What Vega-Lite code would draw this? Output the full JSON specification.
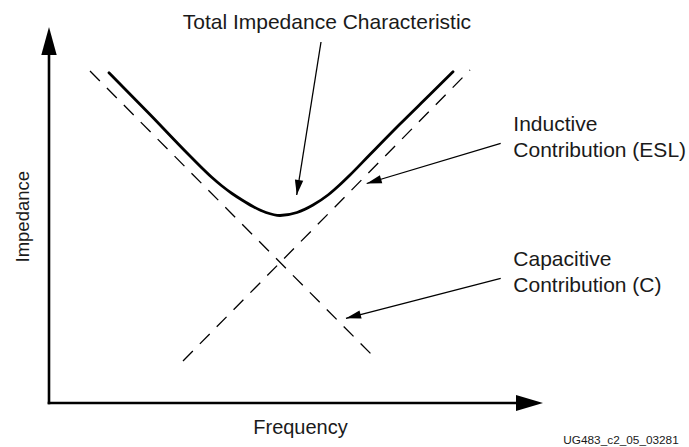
{
  "$schema": "https://vega.github.io/schema/vega-lite/v6.json",
  "width": 689,
  "height": 447,
  "padding": 0,
  "autosize": {"type": "none"},
  "background": "white",
  "config": {"view": {"stroke": null}},
  "datasets": {
    "axes": [
      {"x": 0, "y": 0, "x2": 0, "y2": 355},
      {"x": 0, "y": 0, "x2": 470, "y2": 0}
    ],
    "asymptotes": [
      {"series": "Capacitive", "x": 41, "y": 332, "x2": 325, "y2": 46},
      {"series": "Inductive", "x": 134, "y": 42, "x2": 421, "y2": 333}
    ],
    "curve": [
      {"f": 60, "z": 330.3},
      {"f": 101, "z": 288.5},
      {"f": 141, "z": 247},
      {"f": 163, "z": 225.5},
      {"f": 173, "z": 217},
      {"f": 183, "z": 209.5},
      {"f": 193, "z": 203},
      {"f": 204, "z": 196.5},
      {"f": 217, "z": 190.5},
      {"f": 231, "z": 187.5},
      {"f": 248, "z": 190.5},
      {"f": 264, "z": 198},
      {"f": 279, "z": 208},
      {"f": 290, "z": 217.5},
      {"f": 301, "z": 228},
      {"f": 321, "z": 248.5},
      {"f": 351, "z": 279},
      {"f": 381, "z": 308.5},
      {"f": 404, "z": 331.3}
    ],
    "leaders": [
      {"target": "Total", "x": 272, "y": 361, "x2": 247.7, "y2": 208},
      {"target": "Inductive", "x": 451.7, "y": 259.7, "x2": 317.7, "y2": 219.5},
      {"target": "Capacitive", "x": 451.7, "y": 124.7, "x2": 297, "y2": 84.7}
    ],
    "texts": [
      {"label": "Total Impedance Characteristic", "x": 277.9, "y": 373.7, "kind": "title"},
      {"label": "Inductive", "x": 464.3, "y": 272, "kind": "note"},
      {"label": "Contribution (ESL)", "x": 464.3, "y": 246.3, "kind": "note"},
      {"label": "Capacitive", "x": 464.3, "y": 137.3, "kind": "note"},
      {"label": "Contribution (C)", "x": 464.3, "y": 111.3, "kind": "note"},
      {"label": "Frequency", "x": 251.5, "y": -31, "kind": "xlabel"},
      {"label": "Impedance", "x": -19.7, "y": 186.3, "kind": "ylabel"},
      {"label": "UG483_c2_05_032817", "x": 514.3, "y": -41.3, "kind": "id"}
    ]
  },
  "layer": [
    {
      "data": {"name": "axes"},
      "mark": {"type": "rule", "color": "black", "strokeWidth": 2.6, "strokeCap": "square"},
      "encoding": {
        "x": {"field": "x", "type": "quantitative", "scale": {"domain": [-49, 640], "nice": false, "zero": false}, "axis": null},
        "y": {"field": "y", "type": "quantitative", "scale": {"domain": [-44, 403], "nice": false, "zero": false}, "axis": null},
        "x2": {"field": "x2"},
        "y2": {"field": "y2"}
      }
    },
    {
      "data": {"values": [{"x": 0, "y": 362}]},
      "mark": {"type": "point", "shape": "M0,-1L0.55,1L-0.55,1Z", "filled": true, "color": "black", "opacity": 1, "size": 784, "angle": 0, "strokeWidth": 0},
      "encoding": {
        "x": {"field": "x", "type": "quantitative"},
        "y": {"field": "y", "type": "quantitative"}
      }
    },
    {
      "data": {"values": [{"x": 480.5, "y": 0}]},
      "mark": {"type": "point", "shape": "M0,-1L0.6,1L-0.6,1Z", "filled": true, "color": "black", "opacity": 1, "size": 729, "angle": 90, "strokeWidth": 0},
      "encoding": {
        "x": {"field": "x", "type": "quantitative"},
        "y": {"field": "y", "type": "quantitative"}
      }
    },
    {
      "data": {"name": "asymptotes"},
      "mark": {"type": "rule", "color": "black", "strokeWidth": 1.3, "strokeDash": [14, 10]},
      "encoding": {
        "x": {"field": "x", "type": "quantitative"},
        "y": {"field": "y", "type": "quantitative"},
        "x2": {"field": "x2"},
        "y2": {"field": "y2"}
      }
    },
    {
      "data": {"name": "curve"},
      "mark": {"type": "line", "color": "black", "strokeWidth": 2.8, "interpolate": "monotone", "strokeCap": "round"},
      "encoding": {
        "x": {"field": "f", "type": "quantitative"},
        "y": {"field": "z", "type": "quantitative"}
      }
    },
    {
      "data": {"name": "leaders"},
      "mark": {"type": "rule", "color": "black", "strokeWidth": 1.3},
      "encoding": {
        "x": {"field": "x", "type": "quantitative"},
        "y": {"field": "y", "type": "quantitative"},
        "x2": {"field": "x2"},
        "y2": {"field": "y2"}
      }
    },
    {
      "data": {"values": [{"x": 248.9, "y": 215.4}]},
      "mark": {"type": "point", "shape": "M0,-1L0.56,1L-0.56,1Z", "filled": true, "color": "black", "opacity": 1, "size": 225, "angle": 189, "strokeWidth": 0},
      "encoding": {
        "x": {"field": "x", "type": "quantitative"},
        "y": {"field": "y", "type": "quantitative"}
      }
    },
    {
      "data": {"values": [{"x": 324.9, "y": 221.65}]},
      "mark": {"type": "point", "shape": "M0,-1L0.56,1L-0.56,1Z", "filled": true, "color": "black", "opacity": 1, "size": 225, "angle": 253.3, "strokeWidth": 0},
      "encoding": {
        "x": {"field": "x", "type": "quantitative"},
        "y": {"field": "y", "type": "quantitative"}
      }
    },
    {
      "data": {"values": [{"x": 304.3, "y": 86.6}]},
      "mark": {"type": "point", "shape": "M0,-1L0.56,1L-0.56,1Z", "filled": true, "color": "black", "opacity": 1, "size": 225, "angle": 255.5, "strokeWidth": 0},
      "encoding": {
        "x": {"field": "x", "type": "quantitative"},
        "y": {"field": "y", "type": "quantitative"}
      }
    },
    {
      "data": {"name": "texts"},
      "transform": [{"filter": "datum.kind === 'title'"}],
      "mark": {"type": "text", "font": "Liberation Sans", "fontSize": 21, "align": "center", "baseline": "alphabetic", "color": "#1a1a1a"},
      "encoding": {
        "x": {"field": "x", "type": "quantitative"},
        "y": {"field": "y", "type": "quantitative"},
        "text": {"field": "label"}
      }
    },
    {
      "data": {"name": "texts"},
      "transform": [{"filter": "datum.kind === 'note'"}],
      "mark": {"type": "text", "font": "Liberation Sans", "fontSize": 21, "align": "left", "baseline": "alphabetic", "color": "#1a1a1a"},
      "encoding": {
        "x": {"field": "x", "type": "quantitative"},
        "y": {"field": "y", "type": "quantitative"},
        "text": {"field": "label"}
      }
    },
    {
      "data": {"name": "texts"},
      "transform": [{"filter": "datum.kind === 'xlabel'"}],
      "mark": {"type": "text", "font": "Liberation Sans", "fontSize": 20, "align": "center", "baseline": "alphabetic", "color": "#1a1a1a"},
      "encoding": {
        "x": {"field": "x", "type": "quantitative"},
        "y": {"field": "y", "type": "quantitative"},
        "text": {"field": "label"}
      }
    },
    {
      "data": {"name": "texts"},
      "transform": [{"filter": "datum.kind === 'ylabel'"}],
      "mark": {"type": "text", "font": "Liberation Sans", "fontSize": 18.5, "align": "center", "baseline": "alphabetic", "angle": 270, "color": "#1a1a1a"},
      "encoding": {
        "x": {"field": "x", "type": "quantitative"},
        "y": {"field": "y", "type": "quantitative"},
        "text": {"field": "label"}
      }
    },
    {
      "data": {"name": "texts"},
      "transform": [{"filter": "datum.kind === 'id'"}],
      "mark": {"type": "text", "font": "Liberation Sans", "fontSize": 11.8, "align": "left", "baseline": "alphabetic", "color": "#1a1a1a", "limit": 121, "ellipsis": "\u200b"},
      "encoding": {
        "x": {"field": "x", "type": "quantitative"},
        "y": {"field": "y", "type": "quantitative"},
        "text": {"field": "label"}
      }
    }
  ]
}
